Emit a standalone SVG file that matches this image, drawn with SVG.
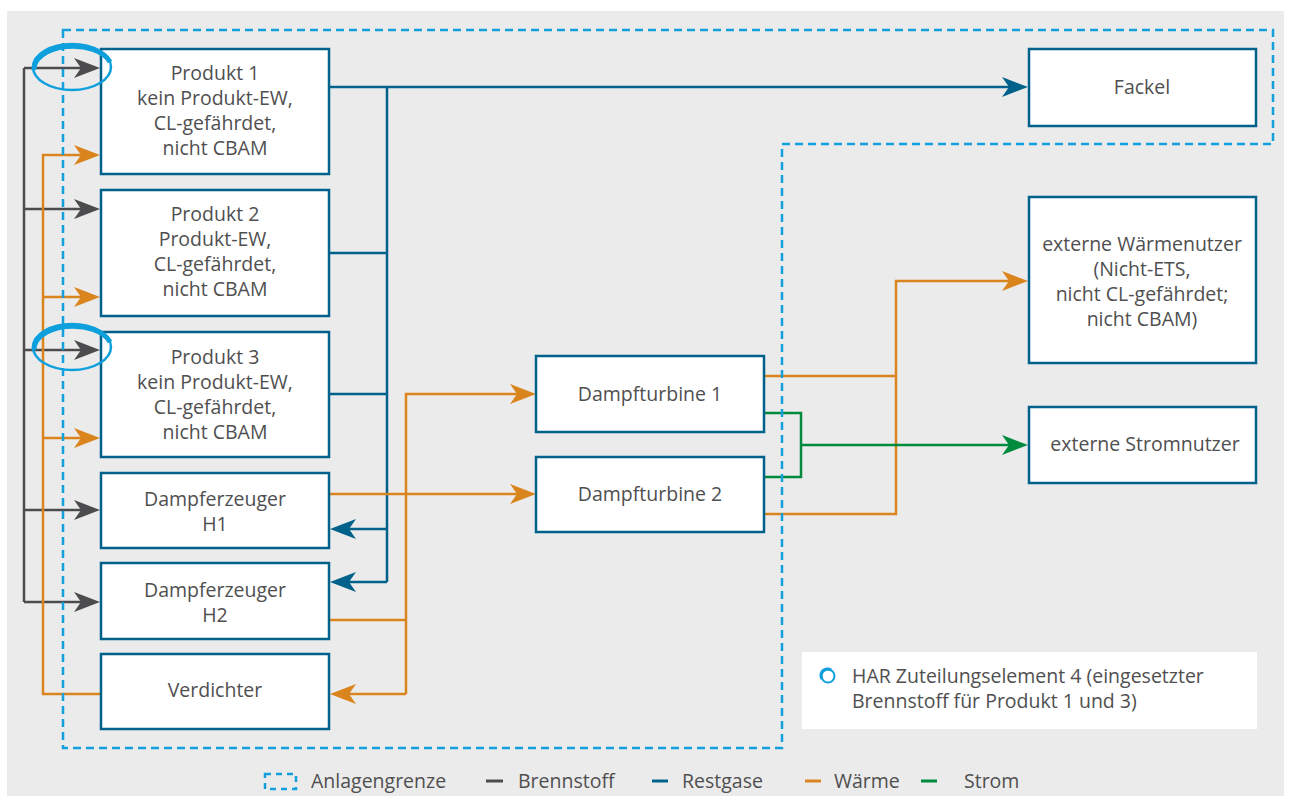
<svg xmlns="http://www.w3.org/2000/svg" width="1291" height="799" viewBox="0 0 1291 799">
<style>
.bg{fill:#ebebeb}
.box{fill:#ffffff;stroke:#00618a;stroke-width:2.5}
.t{font-family:"Open Sans","Noto Sans","DejaVu Sans",sans-serif;font-size:19.5px;fill:#4f4f50;text-anchor:middle}
.tl{font-family:"Open Sans","Noto Sans","DejaVu Sans",sans-serif;font-size:19.5px;fill:#4f4f50}
.gray{fill:none;stroke:#4c4c4e;stroke-width:2.5}
.teal{fill:none;stroke:#00618a;stroke-width:2.5}
.orange{fill:none;stroke:#da841d;stroke-width:2.5}
.green{fill:none;stroke:#008a3e;stroke-width:2.5}
.bound{fill:none;stroke:#13a0dc;stroke-width:2.5;stroke-dasharray:8 5}
.har{fill:none;stroke:#0ea0dc}
</style>
<defs>
<marker id="aGray" viewBox="-27 -11 28 22" markerWidth="28" markerHeight="22" refX="-19" refY="0" orient="auto" markerUnits="userSpaceOnUse"><path d="M0,0 L-26,-10 L-19,0 L-26,10 Z" fill="#4c4c4e"/></marker>
<marker id="aTeal" viewBox="-27 -11 28 22" markerWidth="28" markerHeight="22" refX="-19" refY="0" orient="auto" markerUnits="userSpaceOnUse"><path d="M0,0 L-26,-10 L-19,0 L-26,10 Z" fill="#00618a"/></marker>
<marker id="aOrange" viewBox="-27 -11 28 22" markerWidth="28" markerHeight="22" refX="-19" refY="0" orient="auto" markerUnits="userSpaceOnUse"><path d="M0,0 L-26,-10 L-19,0 L-26,10 Z" fill="#da841d"/></marker>
<marker id="aGreen" viewBox="-27 -11 28 22" markerWidth="28" markerHeight="22" refX="-19" refY="0" orient="auto" markerUnits="userSpaceOnUse"><path d="M0,0 L-26,-10 L-19,0 L-26,10 Z" fill="#008a3e"/></marker>
</defs>
<rect class="bg" x="7" y="11" width="1277" height="785"/>

<g id="connectors">
  <!-- Brennstoff -->
  <path class="gray" d="M24,68 V602"/>
  <path class="gray" d="M24,68 H81" marker-end="url(#aGray)"/>
  <path class="gray" d="M24,209 H81" marker-end="url(#aGray)"/>
  <path class="gray" d="M24,350 H81" marker-end="url(#aGray)"/>
  <path class="gray" d="M24,510 H81" marker-end="url(#aGray)"/>
  <path class="gray" d="M24,602 H81" marker-end="url(#aGray)"/>
  <!-- Waerme left -->
  <path class="orange" d="M101,694 H43 V155 H81" marker-end="url(#aOrange)"/>
  <path class="orange" d="M43,297 H81" marker-end="url(#aOrange)"/>
  <path class="orange" d="M43,438 H81" marker-end="url(#aOrange)"/>
  <!-- Restgase -->
  <path class="teal" d="M329,87 H1009" marker-end="url(#aTeal)"/>
  <path class="teal" d="M387,87 V582"/>
  <path class="teal" d="M329,253 H387"/>
  <path class="teal" d="M329,394 H387"/>
  <path class="teal" d="M387,529 H349" marker-end="url(#aTeal)"/>
  <path class="teal" d="M387,582 H349" marker-end="url(#aTeal)"/>
  <!-- Waerme middle -->
  <path class="orange" d="M329,494 H517" marker-end="url(#aOrange)"/>
  <path class="orange" d="M406,694 V394 H517" marker-end="url(#aOrange)"/>
  <path class="orange" d="M329,620 H406"/>
  <path class="orange" d="M406,694 H349" marker-end="url(#aOrange)"/>
  <!-- Waerme right -->
  <path class="orange" d="M764,376 H896"/>
  <path class="orange" d="M764,514 H896 V281 H1009" marker-end="url(#aOrange)"/>
  <!-- Strom -->
  <path class="green" d="M764,413 H801 V477 H764"/>
  <path class="green" d="M801,445 H1009" marker-end="url(#aGreen)"/>
</g>

<g id="p1"><rect class="box" x="101" y="49" width="228" height="125"/>
<text class="t" x="215" y="80">Produkt 1</text><text class="t" x="215" y="105">kein Produkt-EW,</text><text class="t" x="215" y="130">CL-gefährdet,</text><text class="t" x="215" y="155">nicht CBAM</text></g>
<g id="p2"><rect class="box" x="101" y="190" width="228" height="126"/>
<text class="t" x="215" y="221">Produkt 2</text><text class="t" x="215" y="246">Produkt-EW,</text><text class="t" x="215" y="271">CL-gefährdet,</text><text class="t" x="215" y="296">nicht CBAM</text></g>
<g id="p3"><rect class="box" x="101" y="332" width="228" height="125"/>
<text class="t" x="215" y="364">Produkt 3</text><text class="t" x="215" y="389">kein Produkt-EW,</text><text class="t" x="215" y="414">CL-gefährdet,</text><text class="t" x="215" y="439">nicht CBAM</text></g>
<g id="h1"><rect class="box" x="101" y="473" width="228" height="75"/>
<text class="t" x="215" y="506">Dampferzeuger</text><text class="t" x="215" y="531">H1</text></g>
<g id="h2"><rect class="box" x="101" y="563" width="228" height="76"/>
<text class="t" x="215" y="597">Dampferzeuger</text><text class="t" x="215" y="622">H2</text></g>
<g id="verdichter"><rect class="box" x="101" y="654" width="228" height="75"/>
<text class="t" x="215" y="697">Verdichter</text></g>
<g id="dt1"><rect class="box" x="536" y="356" width="228" height="76"/>
<text class="t" x="650" y="401">Dampfturbine 1</text></g>
<g id="dt2"><rect class="box" x="536" y="457" width="228" height="75"/>
<text class="t" x="650" y="501">Dampfturbine 2</text></g>
<g id="fackel"><rect class="box" x="1029" y="49" width="227" height="77"/>
<text class="t" x="1142" y="94">Fackel</text></g>
<g id="waermenutzer"><rect class="box" x="1029" y="197" width="227" height="166"/>
<text class="t" x="1142" y="251">externe Wärmenutzer</text><text class="t" x="1142" y="276">(Nicht-ETS,</text><text class="t" x="1142" y="301">nicht CL-gefährdet;</text><text class="t" x="1142" y="326">nicht CBAM)</text></g>
<g id="stromnutzer"><rect class="box" x="1029" y="407" width="227" height="76"/>
<text class="t" x="1145" y="451">externe Stromnutzer</text></g>

<g id="boundary"><path class="bound" d="M63,30 H1273 V144 H782 V748 H63 Z"/></g>

<g id="har-marks">
  <ellipse class="har" cx="72" cy="67" rx="39" ry="23" stroke-width="2.5"/>
  <path class="har" d="M34,70 A39,23 0 0 1 110,62" stroke-width="5"/>
  <ellipse class="har" cx="72" cy="347" rx="39" ry="23" stroke-width="2.5"/>
  <path class="har" d="M34,350 A39,23 0 0 1 110,342" stroke-width="5"/>
</g>

<g id="har-legend">
  <rect x="802" y="652" width="455" height="77" fill="#ffffff"/>
  <circle class="har" cx="828" cy="676" r="6.5" stroke-width="2"/>
  <path class="har" d="M822,679 A6.5,6.5 0 0 1 831,670" stroke-width="3"/>
  <text class="tl" x="852" y="683">HAR Zuteilungselement 4 (eingesetzter</text>
  <text class="tl" x="852" y="708">Brennstoff für Produkt 1 und 3)</text>
</g>

<g id="legend">
  <rect x="265" y="774" width="31" height="15" fill="none" stroke="#13a0dc" stroke-width="2.5" stroke-dasharray="6 5"/>
  <text class="tl" x="311" y="788">Anlagengrenze</text>
  <line x1="486" y1="781" x2="503" y2="781" stroke="#4c4c4e" stroke-width="3"/>
  <text class="tl" x="518" y="788">Brennstoff</text>
  <line x1="652" y1="781" x2="668" y2="781" stroke="#00618a" stroke-width="3"/>
  <text class="tl" x="682" y="788">Restgase</text>
  <line x1="805" y1="781" x2="821" y2="781" stroke="#da841d" stroke-width="3"/>
  <text class="tl" x="834" y="788">Wärme</text>
  <line x1="921" y1="781" x2="937" y2="781" stroke="#008a3e" stroke-width="3"/>
  <text class="tl" x="964" y="788">Strom</text>
</g>
</svg>
